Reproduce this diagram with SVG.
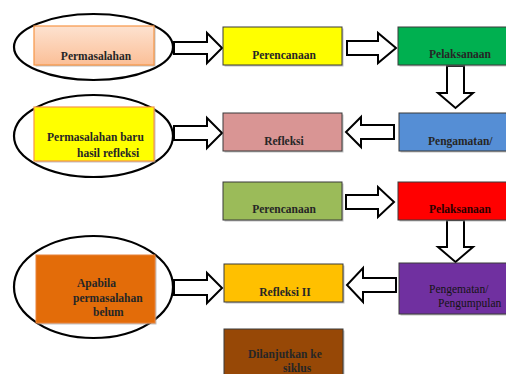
<svg xmlns="http://www.w3.org/2000/svg" width="506" height="374" viewBox="0 0 506 374">
<defs>
<linearGradient id="peach" x1="0" y1="0" x2="0" y2="1">
<stop offset="0" stop-color="#fde2d0"/>
<stop offset="1" stop-color="#fbbf97"/>
</linearGradient>
<style>
.ell{fill:none;stroke:#000;stroke-width:2.2}
.arr{fill:#fff;stroke:#000;stroke-width:2;stroke-linejoin:miter}
.box{stroke:#3a3a3a;stroke-width:1}
.obox{stroke:#f79646;stroke-width:1.2}
.sh{fill:#9a9a9a;opacity:0.6}
.t{font-family:"Liberation Serif",serif;font-weight:bold;font-size:11.5px;fill:#262626}
.c{text-anchor:middle}
.n{font-weight:normal;fill:#141414}
</style>
</defs>
<rect width="506" height="374" fill="#fff"/>
<g id="connectors">
<polygon class="arr" points="174,42 207,42 207,33 222,48 207,63 207,54 174,54"/>
<polygon class="arr" points="347,41 378,41 378,33 396,48 378,63 378,55 347,55"/>
<polygon class="arr" points="447,66 464,66 464,93 473,93 455.5,108 438,93 447,93"/>
<polygon class="arr" points="394,125 361,125 361,117 346,132 361,147 361,139 394,139"/>
<polygon class="arr" points="174,126 207,126 207,118 222,133 207,148 207,140 174,140"/>
<polygon class="arr" points="346,195 378,195 378,187 394,202 378,217 378,209 346,209"/>
<polygon class="arr" points="447,220 464,220 464,247 473,247 455.5,262 438,247 447,247"/>
<polygon class="arr" points="396,278 363,278 363,268 347,285 363,302 363,292 396,292"/>
<polygon class="arr" points="174,280 207,280 207,273 222,288 207,303 207,295 174,295"/>
</g>
<g id="n-permasalahan">
<ellipse class="ell" cx="93.5" cy="47" rx="79.5" ry="33"/>
<rect class="sh" x="35.5" y="27.5" width="120" height="39"/>
<rect class="obox" x="34" y="26" width="120" height="39" fill="url(#peach)"/>
<text class="t c" x="96" y="60">Permasalahan</text>
</g>
<g id="n-perencanaan1">
<rect class="sh" x="224.5" y="28.5" width="119" height="38"/>
<rect class="box" x="223" y="27" width="119" height="38" fill="#ffff00"/>
<text class="t c" x="284" y="59">Perencanaan</text>
</g>
<g id="n-pelaksanaan1">
<rect class="sh" x="399.5" y="28.5" width="110" height="38"/>
<rect class="box" x="398" y="27" width="110" height="38" fill="#00b050"/>
<text class="t c" x="460" y="58">Pelaksanaan</text>
</g>
<g id="n-pengamatan">
<rect class="sh" x="400.5" y="114.5" width="110" height="38"/>
<rect class="box" x="399" y="113" width="110" height="38" fill="#558ed5"/>
<text class="t" x="428" y="145">Pengamatan/</text>
</g>
<g id="n-refleksi">
<rect class="sh" x="224.5" y="114.5" width="119" height="38"/>
<rect class="box" x="223" y="113" width="119" height="38" fill="#d99594"/>
<text class="t c" x="284" y="145">Refleksi</text>
</g>
<g id="n-permasalahan-baru">
<ellipse class="ell" cx="93.5" cy="136" rx="79.5" ry="41"/>
<rect class="sh" x="35.5" y="108.5" width="120" height="54"/>
<rect class="obox" x="34" y="107" width="120" height="54" fill="#ffff00"/>
<text class="t" x="47" y="141">Permasalahan baru</text>
<text class="t" x="77" y="157">hasil refleksi</text>
</g>
<g id="n-perencanaan2">
<rect class="sh" x="224.5" y="183.5" width="119" height="38"/>
<rect class="box" x="223" y="182" width="119" height="38" fill="#9bbb59"/>
<text class="t c" x="284" y="213">Perencanaan</text>
</g>
<g id="n-pelaksanaan2">
<rect class="sh" x="399.5" y="183.5" width="110" height="38"/>
<rect class="box" x="398" y="182" width="110" height="38" fill="#ff0000"/>
<text class="t c" x="460" y="213" style="fill:#2a0000">Pelaksanaan</text>
</g>
<g id="n-pengematan">
<rect class="sh" x="400.5" y="264.5" width="110" height="51"/>
<rect class="box" x="399" y="263" width="110" height="51" fill="#7030a0"/>
<text class="t n" x="429" y="293">Pengematan/</text>
<text class="t n" x="438" y="307">Pengumpulan</text>
</g>
<g id="n-refleksi2">
<rect class="sh" x="225.5" y="265.5" width="119" height="38"/>
<rect class="box" x="224" y="264" width="119" height="38" fill="#ffc000"/>
<text class="t c" x="285" y="296">Refleksi II</text>
</g>
<g id="n-apabila">
<ellipse class="ell" cx="93.5" cy="287" rx="79.5" ry="51"/>
<rect class="sh" x="37.5" y="256.5" width="119" height="68"/>
<rect x="36" y="255" width="119" height="68" fill="#e36c09" stroke="#e8823a" stroke-width="1"/>
<text class="t" x="77" y="287">Apabila</text>
<text class="t" x="73" y="302">permasalahan</text>
<text class="t" x="93" y="316">belum</text>
</g>
<g id="n-dilanjutkan">
<rect class="sh" x="225.5" y="330.5" width="119" height="50"/>
<rect class="box" x="224" y="329" width="119" height="50" fill="#974806"/>
<text class="t" x="248" y="358">Dilanjutkan ke</text>
<text class="t" x="283" y="372">siklus</text>
</g>
</svg>
